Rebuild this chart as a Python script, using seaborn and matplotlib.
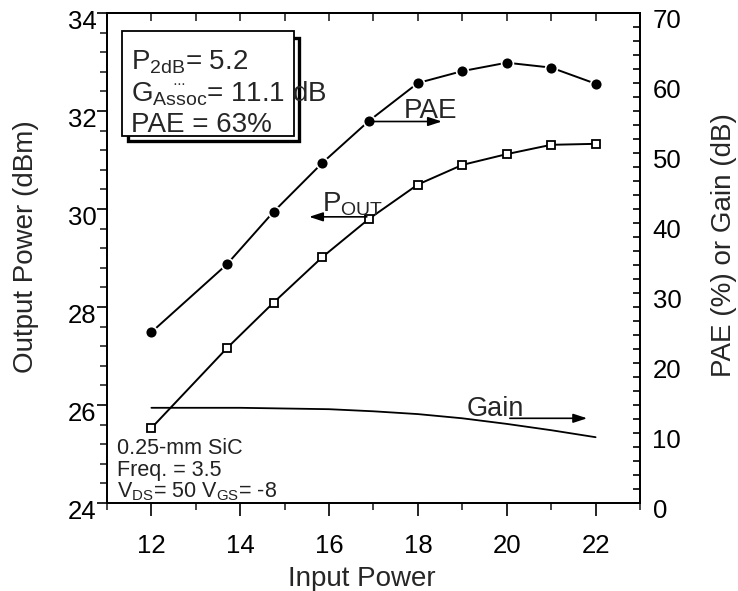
import matplotlib
matplotlib.use("Agg")
import matplotlib.pyplot as plt
import matplotlib.transforms as mtransforms
from matplotlib.patches import Rectangle
from matplotlib.ticker import MultipleLocator
import seaborn as sns
import pandas as pd

# ---- data ----
pin = [12.0, 13.7, 14.75, 15.85, 16.9, 18.0, 19.0, 20.0, 21.0, 22.0]
pout = [25.53, 27.16, 28.09, 29.02, 29.80, 30.50, 30.90, 31.12, 31.31, 31.33]
pae = [24.4, 34.1, 41.6, 48.6, 54.6, 60.0, 61.7, 62.9, 62.2, 59.9]
gain_x = [12, 13, 14, 15, 16, 17, 18, 19, 20, 21, 22]
gain = [13.6, 13.6, 13.6, 13.5, 13.4, 13.1, 12.7, 12.1, 11.3, 10.4, 9.4]
x_ticks = [12, 14, 16, 18, 20, 22]
left_ticks = [24, 26, 28, 30, 32, 34]
right_ticks = [0, 10, 20, 30, 40, 50, 60, 70]

sns.set_style("ticks")
plt.rcParams["font.family"] = ["Liberation Sans", "DejaVu Sans"]
plt.rcParams["mathtext.default"] = "regular"

W, H = 738, 591
fig = plt.figure(figsize=(W / 100, H / 100), dpi=100)
L, R, T, B = 107, 640, 13, 503
ax = fig.add_axes([L / W, 1 - B / H, (R - L) / W, (B - T) / H])
ax2 = ax.twinx()

df1 = pd.DataFrame({"pin": pin, "pout": pout, "pae": pae})
df2 = pd.DataFrame({"pin": gain_x, "gain": gain})

sns.lineplot(data=df1, x="pin", y="pout", ax=ax, color="black", linewidth=1.4,
             marker="s", markersize=5.4, markerfacecolor="white",
             markeredgecolor="black", markeredgewidth=1.3, zorder=3)
sns.lineplot(data=df1, x="pin", y="pae", ax=ax2, color="black", linewidth=1.4,
             marker="o", markersize=8.5, markeredgecolor="white",
             markeredgewidth=1.2, zorder=3)
sns.lineplot(data=df2, x="pin", y="gain", ax=ax2, color="black", linewidth=1.3, zorder=3)

# ---- axes limits / ticks ----
ax.set_xlim(11, 23)
ax.set_ylim(24, 34)
ax2.set_ylim(0, 70)
ax.set_xticks(x_ticks)
ax.xaxis.set_minor_locator(MultipleLocator(1))
ax.set_yticks(left_ticks)
ax.yaxis.set_minor_locator(MultipleLocator(0.4))
ax2.set_yticks(right_ticks)
ax2.yaxis.set_minor_locator(MultipleLocator(2))

for a in (ax, ax2):
    for s in a.spines.values():
        s.set_linewidth(1.3)
        s.set_color("black")
        s.set_visible(True)

ax.tick_params(axis="x", which="major", direction="out", length=9, width=1.2,
               labelsize=18.5, pad=13, colors="black")
ax.tick_params(axis="x", which="minor", direction="out", length=5, width=1.2)
ax.tick_params(axis="y", which="major", direction="out", length=7, width=1.2,
               labelsize=18.5, pad=0.5, colors="black")
ax.tick_params(axis="y", which="minor", direction="out", length=5, width=1.2)
ax2.tick_params(axis="y", which="both", direction="in", length=5, width=1.2,
                labelsize=18.5, pad=9, colors="black")

top = ax.secondary_xaxis("top")
top.set_xticks(list(range(11, 24)))
top.tick_params(direction="in", length=6, width=1.2, labeltop=False)
top.spines["top"].set_linewidth(1.3)

ax.set_xlabel("Input Power", fontsize=20)
ax.set_ylabel("Output Power (dBm)", fontsize=20)
ax2.set_ylabel("PAE (%) or Gain (dB)", fontsize=20)
ax.xaxis.set_label_coords((362 - L) / (R - L), (B - 566) / (B - T))
ax.yaxis.set_label_coords((39 - L) / (R - L), (B - 247) / (B - T))
ax2.yaxis.set_label_coords((711 - L) / (R - L), (B - 245) / (B - T))

# shift y tick labels slightly downward as in the reference
off = mtransforms.ScaledTranslation(0, -6 / 100, fig.dpi_scale_trans)
for lab in ax.get_yticklabels() + ax2.get_yticklabels():
    lab.set_transform(lab.get_transform() + off)

# ---- annotations ----
arrow = dict(arrowstyle="-|>,head_length=0.55,head_width=0.18", color="black",
             lw=1.2, shrinkA=0, shrinkB=0, mutation_scale=15)
ax2.annotate("", xy=(18.54, 54.5), xytext=(16.95, 54.5), arrowprops=arrow, zorder=4)
ax2.text(17.67, 55.0, "PAE", fontsize=20, va="baseline", ha="left")
ax.annotate("", xy=(15.55, 29.84), xytext=(16.85, 29.84), arrowprops=arrow, zorder=4)
ax.text(15.84, 29.95, "$P_{OUT}$", fontsize=20, va="baseline", ha="left")
ax2.annotate("", xy=(21.81, 12.1), xytext=(20.07, 12.1), arrowprops=arrow, zorder=4)
ax2.text(19.1, 12.4, "Gain", fontsize=19.5, va="baseline", ha="left")


def axc(px, py):
    return (px - L) / (R - L), (B - py) / (B - T)


# info box with shadow
sx, sy = axc(128, 141)
ax2.add_patch(Rectangle((sx, sy), (299 - 128) / (R - L), (141 - 38) / (B - T),
                        transform=ax2.transAxes, facecolor="white",
                        edgecolor="black", lw=2.4, zorder=5))
bx, by = axc(121.7, 136)
ax2.add_patch(Rectangle((bx, by), (294 - 121.7) / (R - L), (136 - 30.7) / (B - T),
                        transform=ax2.transAxes, facecolor="white",
                        edgecolor="black", lw=1.3, zorder=6))
tx = axc(131, 0)[0]
ax2.text(tx, axc(0, 70)[1], "$P_{2dB}$= 5.2", transform=ax2.transAxes,
         fontsize=20, va="baseline", ha="left", zorder=7)
ax2.text(tx, axc(0, 101.5)[1], r"$G_{\overset{\cdots}{Assoc}}$= 11.1 dB",
         transform=ax2.transAxes, fontsize=20, va="baseline", ha="left", zorder=7)
ax2.text(tx, axc(0, 131.7)[1], "PAE = 63%", transform=ax2.transAxes,
         fontsize=20, va="baseline", ha="left", zorder=7)

# device conditions text
cx = axc(117, 0)[0]
ax2.text(cx, axc(0, 454)[1], "0.25-mm SiC", transform=ax2.transAxes,
         fontsize=15.5, va="baseline", ha="left", color="#222222")
ax2.text(cx, axc(0, 476)[1], "Freq. = 3.5", transform=ax2.transAxes,
         fontsize=15.5, va="baseline", ha="left", color="#222222")
ax2.text(cx, axc(0, 497)[1], "$V_{DS}$= 50 $V_{GS}$= -8", transform=ax2.transAxes,
         fontsize=15.5, va="baseline", ha="left", color="#222222")

fig.savefig("out.png", dpi=100)
